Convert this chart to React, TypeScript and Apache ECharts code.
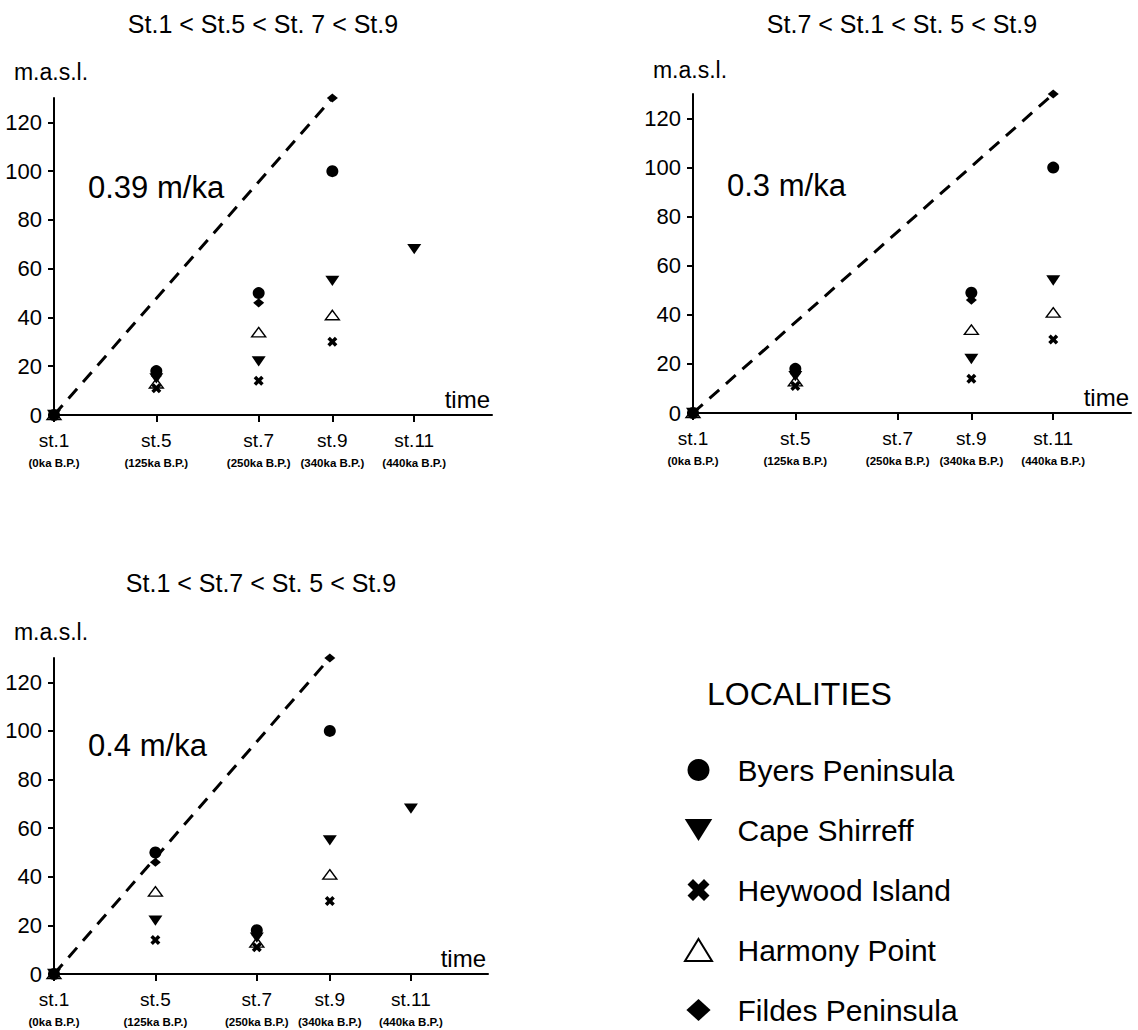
import React, { useEffect, useRef } from 'react';
import * as echarts from 'echarts';

// ---------- data ----------
const stageLabels = ['st.1', 'st.5', 'st.7', 'st.9', 'st.11'];
const stageAges = [0, 125, 250, 340, 440];
const ageLabels = ['(0ka B.P.)', '(125ka B.P.)', '(250ka B.P.)', '(340ka B.P.)', '(440ka B.P.)'];
const elevTicks = [0, 20, 40, 60, 80, 100, 120];

const localities = ['Byers Peninsula', 'Cape Shirreff', 'Heywood Island', 'Harmony Point', 'Fildes Peninsula'];

const panelTitles = ['St.1 < St.5 < St. 7 < St.9', 'St.7 < St.1 < St. 5 < St.9', 'St.1 < St.7 < St. 5 < St.9'];
const rateLabels = ['0.39 m/ka', '0.3 m/ka', '0.4 m/ka'];
const rateLineA = [[0, 0], [340, 130]];
const rateLineB = [[0, 0], [440, 130]];
const rateLineC = [[0, 0], [340, 130]];

// panel A : St.1 < St.5 < St.7 < St.9
const byersA = [[0, 0], [125, 18], [250, 50], [340, 100]];
const capeA = [[0, 0], [125, 15], [250, 22], [340, 55], [440, 68]];
const heywoodA = [[0, 0], [125, 11], [250, 14], [340, 30]];
const harmonyA = [[0, 0], [125, 13], [250, 34], [340, 41]];
const fildesA = [[0, 0], [125, 16], [250, 46], [340, 130]];

// panel B : St.7 < St.1 < St.5 < St.9
const byersB = [[0, 0], [125, 18], [340, 49], [440, 100]];
const capeB = [[0, 0], [125, 15], [340, 22], [440, 54]];
const heywoodB = [[0, 0], [125, 11], [340, 14], [440, 30]];
const harmonyB = [[0, 0], [125, 13], [340, 34], [440, 41]];
const fildesB = [[0, 0], [125, 16], [340, 46], [440, 130]];

// panel C : St.1 < St.7 < St.5 < St.9
const byersC = [[0, 0], [125, 50], [250, 18], [340, 100]];
const capeC = [[0, 0], [125, 22], [250, 15], [340, 55], [440, 68]];
const heywoodC = [[0, 0], [125, 14], [250, 11], [340, 30]];
const harmonyC = [[0, 0], [125, 34], [250, 13], [340, 41]];
const fildesC = [[0, 0], [125, 46], [250, 16], [340, 130]];

// ---------- styling ----------
const FONT = '"Liberation Sans", Arial, Helvetica, sans-serif';
const BLACK = '#000';

const SYM_TRI_DOWN = 'path://M0,0L14,0L7,12Z';
const SYM_TRI_UP = 'path://M7,0L14,11L0,11Z';
const SYM_DIAMOND = 'path://M5.5,0L11,5L5.5,10L0,5Z';
const SYM_CROSS = 'path://M0,2.5L2.5,0L5,2.5L7.5,0L10,2.5L7.5,5L10,7.5L7.5,10L5,7.5L2.5,10L0,7.5L2.5,5Z';

const markerDefs = [
  { symbol: 'circle', size: 12, itemStyle: { color: BLACK, opacity: 1 } },
  { symbol: SYM_TRI_DOWN, size: [14, 12], itemStyle: { color: BLACK, opacity: 1 } },
  { symbol: SYM_CROSS, size: [10, 10], itemStyle: { color: BLACK, opacity: 1 } },
  { symbol: SYM_TRI_UP, size: [14, 12], itemStyle: { color: '#fff', borderColor: BLACK, borderWidth: 1.4, opacity: 1 } },
  { symbol: SYM_DIAMOND, size: [11, 10], itemStyle: { color: BLACK, opacity: 1 } },
];

const legendIcons = [
  'circle',
  'path://M0,0L25,0L12.5,20Z',
  'path://M0,2.5L2.5,0L5,2.5L7.5,0L10,2.5L7.5,5L10,7.5L7.5,10L5,7.5L2.5,10L0,7.5L2.5,5Z',
  'path://M13.5,0L27,22L0,22Z',
  'path://M11,0L22,10L11,20L0,10Z',
];

const panelData = [
  [byersA, capeA, heywoodA, harmonyA, fildesA],
  [byersB, capeB, heywoodB, harmonyB, fildesB],
  [byersC, capeC, heywoodC, harmonyC, fildesC],
];
const rateLines = [rateLineA, rateLineB, rateLineC];

const grids = [
  { left: 54, top: 98, width: 438, height: 317 },
  { left: 693, top: 94, width: 438, height: 319 },
  { left: 54, top: 658, width: 434, height: 316 },
];
const yNameGaps = [26, 24, 26];
const titlePos = [
  [263, 24],
  [902, 24],
  [261, 583],
];
const ratePos = [
  [88, 187],
  [727, 185],
  [88, 745],
];

function buildOption() {
  const xAxis = grids.map((_, p) => ({
    type: 'value',
    gridIndex: p,
    min: 0,
    max: 535,
    name: 'time',
    nameLocation: 'end',
    nameGap: 0,
    nameMoveOverlap: false,
    nameTextStyle: {
      fontSize: 24,
      color: BLACK,
      fontFamily: FONT,
      align: 'right',
      verticalAlign: 'bottom',
      padding: [0, 2, 4, 0],
    },
    axisLine: { show: true, onZero: true, lineStyle: { color: BLACK, width: 2 } },
    axisTick: { show: true, customValues: stageAges, length: 7, lineStyle: { color: BLACK, width: 2 } },
    axisLabel: {
      show: true,
      customValues: stageAges,
      margin: 13,
      color: BLACK,
      formatter: (v: number) => {
        const i = stageAges.indexOf(v);
        if (i < 0) return '';
        return `{a|${stageLabels[i]}}\n{b|${ageLabels[i]}}`;
      },
      rich: {
        a: { fontSize: 19, lineHeight: 24, color: BLACK, fontFamily: FONT },
        b: { fontSize: 11.5, lineHeight: 22, fontWeight: 'bold', color: BLACK, fontFamily: FONT },
      },
    },
    splitLine: { show: false },
  }));

  const yAxis = grids.map((_, p) => ({
    type: 'value',
    gridIndex: p,
    min: 0,
    max: 130,
    name: 'm.a.s.l.',
    nameLocation: 'end',
    nameGap: yNameGaps[p],
    nameMoveOverlap: false,
    nameTextStyle: {
      fontSize: 23,
      color: BLACK,
      fontFamily: FONT,
      align: 'center',
      verticalAlign: 'middle',
      padding: [0, 6, 0, 0],
    },
    axisLine: { show: true, lineStyle: { color: BLACK, width: 2 } },
    axisTick: { show: true, customValues: elevTicks, length: 6, lineStyle: { color: BLACK, width: 2 } },
    axisLabel: { show: true, customValues: elevTicks, fontSize: 22, margin: 12, color: BLACK, fontFamily: FONT },
    splitLine: { show: false },
  }));

  const series: any[] = [];
  panelData.forEach((sets, p) => {
    series.push({
      type: 'line',
      name: 'rate' + p,
      xAxisIndex: p,
      yAxisIndex: p,
      data: rateLines[p],
      symbol: 'none',
      showSymbol: false,
      silent: true,
      z: 1,
      lineStyle: { color: BLACK, width: 3, type: [13, 9] },
    });
    sets.forEach((data, i) => {
      const m = markerDefs[i];
      series.push({
        type: 'scatter',
        name: localities[i],
        xAxisIndex: p,
        yAxisIndex: p,
        data,
        symbol: m.symbol,
        symbolSize: m.size,
        symbolKeepAspect: true,
        itemStyle: m.itemStyle,
        z: 3 + (4 - i),
      });
    });
  });

  const graphic: any[] = [];
  panelTitles.forEach((t, p) => {
    graphic.push({
      type: 'text',
      x: titlePos[p][0],
      y: titlePos[p][1],
      style: { text: t, fontSize: 25, fontFamily: FONT, fill: BLACK, align: 'center', verticalAlign: 'middle' },
    });
  });
  rateLabels.forEach((t, p) => {
    graphic.push({
      type: 'text',
      x: ratePos[p][0],
      y: ratePos[p][1],
      style: { text: t, fontSize: 31, fontFamily: FONT, fill: BLACK, align: 'left', verticalAlign: 'middle' },
    });
  });
  graphic.push({
    type: 'text',
    x: 707,
    y: 694,
    style: { text: 'LOCALITIES', fontSize: 32, fontFamily: FONT, fill: BLACK, align: 'left', verticalAlign: 'middle' },
  });

  return {
    animation: false,
    backgroundColor: '#fff',
    textStyle: { fontFamily: FONT, color: BLACK },
    grid: grids.map((g) => ({ ...g, containLabel: false, outerBoundsMode: 'none' })),
    xAxis,
    yAxis,
    legend: {
      orient: 'vertical',
      left: 684,
      top: 755,
      width: 440,
      height: 300,
      padding: 0,
      itemWidth: 68,
      itemHeight: 22,
      itemGap: 30,
      selectedMode: false,
      symbolKeepAspect: true,
      textStyle: { fontSize: 30, lineHeight: 30, color: BLACK, fontFamily: FONT },
      data: localities.map((n, i) => ({ name: n, icon: legendIcons[i] })),
    },
    graphic,
    series,
  };
}

export default function App() {
  const ref = useRef<HTMLDivElement>(null);
  useEffect(() => {
    if (!ref.current) return;
    const chart = echarts.init(ref.current, undefined, { renderer: 'svg' });
    chart.setOption(buildOption() as any);
    return () => {
      chart.dispose();
    };
  }, []);
  return (
    <div
      ref={ref}
      style={{ position: 'absolute', left: 0, top: 0, width: 1138, height: 1030, background: '#fff' }}
    />
  );
}
